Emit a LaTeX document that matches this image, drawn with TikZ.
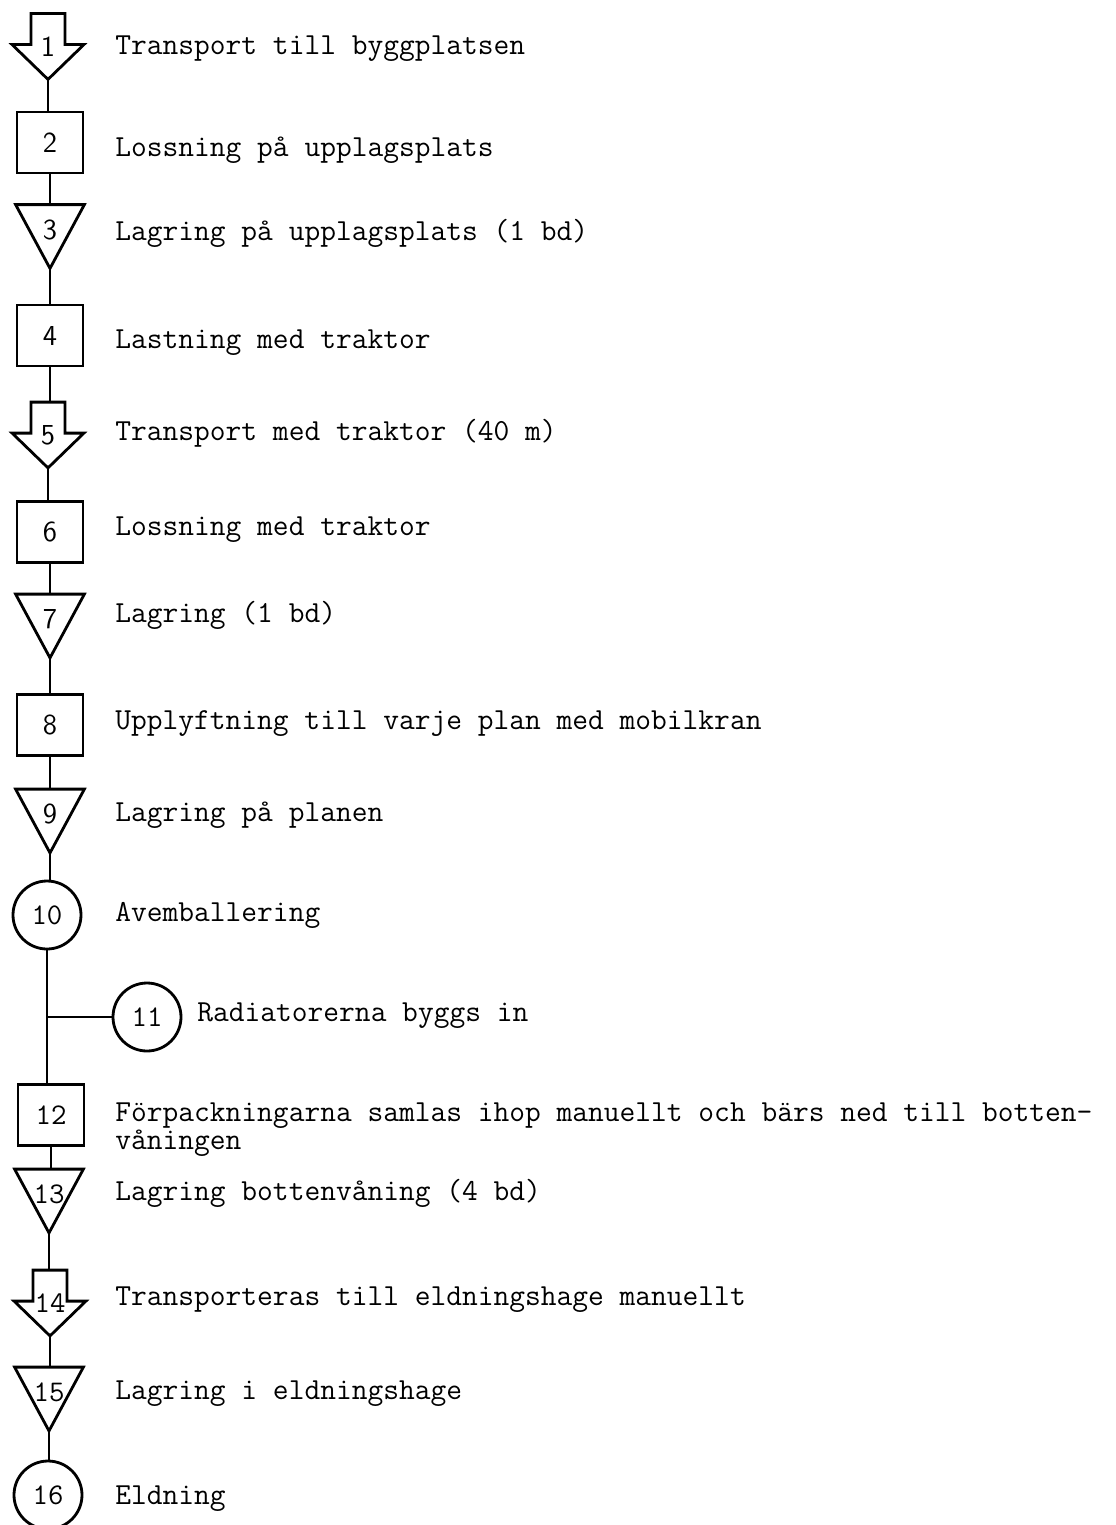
\documentclass[tikz,border=0pt]{standalone}
\usepackage{tikz}

\begin{document}
\begin{tikzpicture}[x=0.5pt,y=-0.5pt]
	\useasboundingbox (0,0) rectangle (1115,1525);
	\tikzset{
		shapeline/.style={line width=1.4pt,line join=miter},
		flow/.style={line width=1.1pt},
		opbox/.style={draw,shapeline,minimum width=33pt,minimum height=30.5pt,inner sep=0pt,font=\sffamily\fontsize{14.5}{14}\selectfont},
		opcirc/.style={draw,shapeline,circle,minimum size=34pt,inner sep=0pt,font=\ttfamily\fontsize{15}{14}\selectfont},
		storetri/.style={minimum width=34pt,minimum height=31.5pt,inner sep=0pt,text height=10pt,text depth=7.5pt,font=\sffamily\fontsize{14.5}{14}\selectfont},
		transarr/.style={minimum width=35.5pt,minimum height=32.5pt,inner sep=0pt,font=\sffamily\fontsize{14.5}{14}\selectfont},
		desc/.style={anchor=base west,inner sep=0pt,align=left,font=\ttfamily\fontsize{15.3}{14}\selectfont}
	}
	\tikzstyle{ttnum}=[font=\ttfamily\fontsize{15}{14}\selectfont]

	%% symbols down the main line
	\node[transarr] (s1) at (48,46.5) {1};
	\node[opbox] (s2) at (50,142.5) {2};
	\node[storetri] (s3) at (50,236.5) {3};
	\node[opbox] (s4) at (50,335.5) {4};
	\node[transarr] (s5) at (48,435) {5};
	\node[opbox] (s6) at (50,532) {6};
	\node[storetri] (s7) at (50,626) {7};
	\node[opbox] (s8) at (50,725) {8};
	\node[storetri] (s9) at (50,821) {9};
	\node[opcirc] (s10) at (47,915) {10};
	\node[opcirc] (s11) at (147,1017) {11};
	\node[opbox,ttnum] (s12) at (51,1115) {12};
	\node[storetri,ttnum] (s13) at (49,1201) {13};
	\node[transarr,ttnum] (s14) at (50,1303) {14};
	\node[storetri,ttnum] (s15) at (49,1399) {15};
	\node[opcirc] (s16) at (48,1495) {16};

	%% triangles (storage)
	\foreach \n in {s3,s7,s9,s13,s15}
		\draw[shapeline] (\n.north west) -- (\n.north east) -- (\n.south) -- cycle;

	%% block arrows (transport)
	\foreach \n in {s1,s5,s14}
		\draw[shapeline] ([xshift=-8.5pt]\n.north) -- ([xshift=-8.5pt,yshift=-15.5pt]\n.north)
			-- ([yshift=-15.5pt]\n.north west) -- (\n.south) -- ([yshift=-15.5pt]\n.north east)
			-- ([xshift=8.5pt,yshift=-15.5pt]\n.north) -- ([xshift=8.5pt]\n.north) -- cycle;

	%% flow lines
	\coordinate (br) at (s10 |- s11);
	\foreach \a/\b in {s1/s2,s2/s3,s3/s4,s4/s5,s5/s6,s6/s7,s7/s8,s8/s9,s9/s10,s10/s12,s12/s13,s13/s14,s14/s15,s15/s16}
		\draw[flow] (\a.south) -- (\a.south |- \b.north);
	\draw[flow] (br) -- (s11.west);

	%% descriptions
	\node[desc] (t1) at (115,55) {Transport till byggplatsen};
	\node[desc] (t2) at (115,156) {Lossning på upplagsplats};
	\node[desc] (t3) at (115,240) {Lagring på upplagsplats (1 bd)};
	\node[desc] (t4) at (115,348) {Lastning med traktor};
	\node[desc] (t5) at (115,440) {Transport med traktor (40 m)};
	\node[desc] (t6) at (115,535) {Lossning med traktor};
	\node[desc] (t7) at (115,622) {Lagring (1 bd)};
	\node[desc] (t8) at (115,729) {Upplyftning till varje plan med mobilkran};
	\node[desc] (t9) at (115,821) {Lagring på planen};
	\node[desc] (t10) at (115,921) {Avemballering};
	\node[desc] (t11) at (197,1021) {Radiatorerna byggs in};
	\node[desc] (t12) at (115,1149) {Förpackningarna samlas ihop manuellt och bärs ned till botten-\\våningen};
	\node[desc] (t13) at (115,1200) {Lagring bottenvåning (4 bd)};
	\node[desc] (t14) at (115,1305) {Transporteras till eldningshage manuellt};
	\node[desc] (t15) at (115,1399) {Lagring i eldningshage};
	\node[desc] (t16) at (115,1504) {Eldning};
\end{tikzpicture}
\end{document}
